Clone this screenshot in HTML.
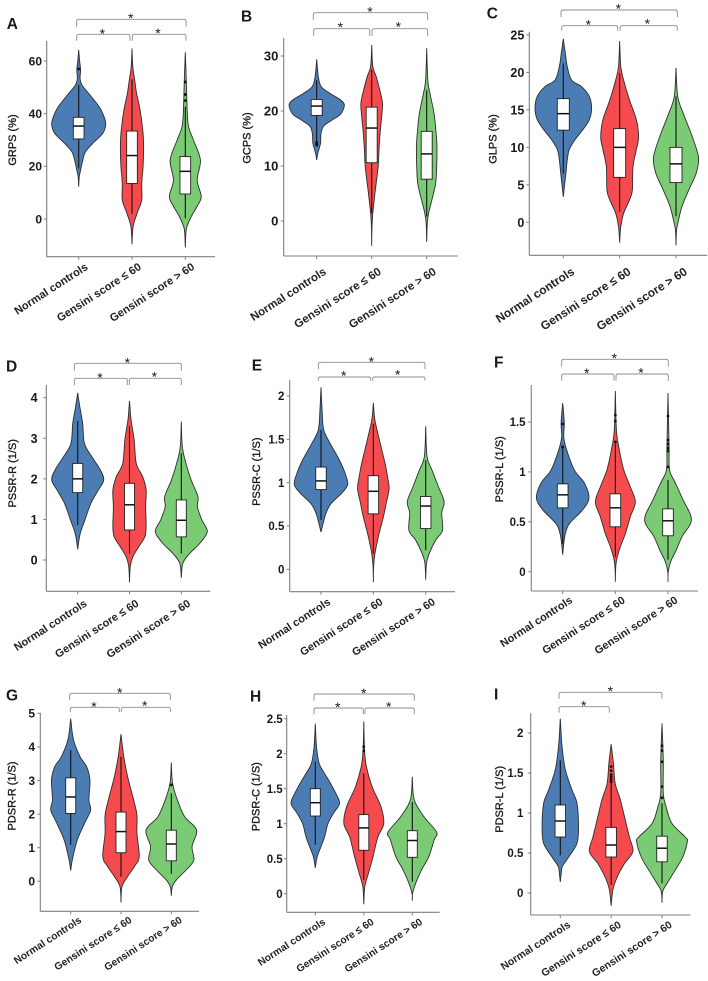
<!DOCTYPE html>
<html lang="en">
<head>
<meta charset="utf-8">
<title>Strain violin plots</title>
<style>
html,body{margin:0;padding:0;background:#fff;width:708px;height:981px;overflow:hidden}
svg{display:block;font-family:"Liberation Sans",sans-serif;filter:blur(.3px)}
</style>
</head>
<body>
<svg id="figure" width="708" height="981" viewBox="0 0 708 981" xmlns="http://www.w3.org/2000/svg"></svg>
<script>
const categories = ['Normal controls', 'Gensini score \u2264 60', 'Gensini score > 60'];
const seriesKeys = ['normal-controls', 'gensini-low', 'gensini-high'];
const seriesColors = ['#4b7cb3', '#f64b4e', '#7bcb75'];

// Panel A
const aTicks = [0, 20, 40, 60];
const aNormalValues = [64.2, 60.4, 56.6, 53.4, 50.9, 47.7, 42.6, 38.8, 35.9, 32.5, 28.7, 25.5, 22.3, 18.5, 16, 12.3];
const aNormalDensity = [0, .03, .07, .05, .12, .37, .76, .94, 1, .89, .52, .25, .15, .07, .02, 0];
const aNormalBox = [19.2, 30.4, 35.3, 38.6, 50.9];
const aNormalOutliers = [57];
const aLowValues = [64.8, 57.8, 52.8, 47.7, 41.4, 32.5, 26.2, 19.9, 13.5, 7.2, 2.2, -2.9, -9.6];
const aLowDensity = [0, .03, .1, .17, .3, .41, .43, .41, .36, .36, .19, .04, 0];
const aLowBox = [2, 13.5, 24.1, 33.4, 53];
const aLowOutliers = [];
const aHighValues = [63.3, 51.5, 41.4, 35.1, 30, 22.4, 14.8, 8.5, 4.7, .9, -2.9, -5.4, -10.8];
const aHighDensity = [0, .04, .07, .12, .3, .56, .44, .59, .43, .22, .06, .02, 0];
const aHighBox = [.3, 9.5, 18.1, 23.7, 42.7];
const aHighOutliers = [52, 47.3, 45];

// Panel B
const bTicks = [0, 10, 20, 30];
const bNormalValues = [29.4, 26.2, 24.4, 23.2, 22, 21.2, 20.2, 19.3, 18.1, 17.2, 15.9, 14.1, 12.3, 11.1];
const bNormalDensity = [0, .06, .17, .49, .89, 1.02, .98, .86, .49, .25, .16, .14, .04, 0];
const bNormalBox = [14.1, 19.2, 20.9, 22.1, 25.6];
const bNormalOutliers = [14.3, 14, 13.8];
const bLowValues = [32, 28.1, 26.2, 23.8, 21.4, 19, 15.9, 12.9, 9.9, 5, 1.4, -1, -4.5];
const bLowDensity = [0, .04, .17, .3, .4, .37, .31, .27, .24, .12, .04, .01, 0];
const bLowBox = [1.4, 10.6, 16.9, 20.7, 27.5];
const bLowOutliers = [];
const bHighValues = [31.4, 25.6, 23.2, 19.6, 15.9, 13.5, 9.9, 6.8, 3.8, 1.4, -.4, -3.8];
const bHighDensity = [0, .04, .12, .27, .35, .38, .37, .33, .19, .07, .02, 0];
const bHighBox = [.8, 7.6, 12.2, 16.3, 23.8];
const bHighOutliers = [];

// Panel C
const cTicks = [0, 5, 10, 15, 20, 25];
const cNormalValues = [24.5, 22.6, 20.8, 19, 18.1, 16.8, 15.2, 13.7, 12.3, 11, 9.7, 8.3, 6.5, 4.8, 3.4];
const cNormalDensity = [0, .07, .14, .29, .65, .92, 1, .92, .68, .41, .21, .14, .09, .04, 0];
const cNormalBox = [6.5, 12.3, 14.5, 16.5, 21.2];
const cNormalOutliers = [];
const cLowValues = [24.2, 20.8, 19, 16.3, 13.7, 11.4, 9.7, 7.4, 4.3, 3, 1.2, -.6, -2.7];
const cLowDensity = [0, .04, .14, .35, .59, .67, .59, .47, .45, .35, .14, .04, 0];
const cLowBox = [1.4, 6, 10, 12.5, 19.9];
const cLowOutliers = [];
const cHighValues = [20.6, 16.8, 14.5, 11.9, 9.7, 8.4, 6.5, 4.3, 2.1, .3, -1, -3.1];
const cHighDensity = [0, .06, .26, .53, .73, .8, .71, .45, .21, .09, .02, 0];
const cHighBox = [.8, 5.3, 7.8, 10, 16.8];
const cHighOutliers = [];

// Panel D
const dTicks = [0, 1, 2, 3, 4];
const dNormalValues = [4.12, 3.78, 3.37, 2.87, 2.55, 2.22, 1.97, 1.72, 1.4, .99, .66, .41, .26];
const dNormalDensity = [0, .08, .19, .26, .54, .87, 1, .79, .51, .28, .1, .03, 0];
const dNormalBox = [.86, 1.66, 2, 2.38, 3.43];
const dNormalOutliers = [];
const dLowValues = [3.92, 3.45, 2.96, 2.38, 2.05, 1.72, 1.31, .82, .57, .33, .08, -.16, -.55];
const dLowDensity = [0, .06, .18, .26, .51, .64, .62, .64, .59, .36, .13, .03, 0];
const dLowBox = [.16, .74, 1.36, 1.89, 3.29];
const dLowOutliers = [];
const dHighValues = [3.41, 2.79, 2.38, 1.97, 1.56, 1.31, .99, .7, .41, .16, -.08, -.44];
const dHighDensity = [0, .04, .18, .38, .64, .62, .79, 1, .71, .32, .06, 0];
const dHighBox = [.16, .57, .98, 1.48, 2.63];
const dHighOutliers = [];

// Panel E
const eTicks = [0, .5, 1, 1.5, 2];
const eNormalValues = [2.1, 1.84, 1.61, 1.45, 1.26, 1.11, .98, .88, .76, .65, .53, .43];
const eNormalDensity = [0, .04, .1, .35, .69, .9, 1, .78, .38, .19, .08, 0];
const eNormalBox = [.57, .92, 1.02, 1.18, 1.61];
const eNormalOutliers = [];
const eLowValues = [1.92, 1.72, 1.49, 1.22, 1.07, .93, .76, .61, .38, .18, .03, -.15];
const eLowDensity = [0, .06, .23, .44, .53, .59, .48, .38, .19, .06, .01, 0];
const eLowBox = [.18, .64, .9, 1.08, 1.68];
const eLowOutliers = [];
const eHighValues = [1.65, 1.3, 1.15, .95, .78, .65, .45, .34, .18, .07, -.12];
const eHighDensity = [0, .05, .23, .48, .69, .6, .63, .38, .13, .03, 0];
const eHighBox = [.22, .47, .73, .84, 1.26];
const eHighOutliers = [];

// Panel F
const fTicks = [0, .5, 1, 1.5];
const fNormalValues = [1.69, 1.49, 1.35, 1.22, 1.02, .89, .74, .62, .48, .38, .28, .17];
const fNormalDensity = [0, .06, .04, .15, .44, .82, 1, .76, .25, .1, .04, 0];
const fNormalBox = [.28, .64, .77, .88, 1.25];
const fNormalOutliers = [1.48, 1.25];
const fLowValues = [1.81, 1.42, 1.25, 1.02, .85, .7, .55, .38, .25, .12, .02, -.1];
const fLowDensity = [0, .04, .13, .32, .57, .76, .57, .38, .19, .05, .01, 0];
const fLowBox = [.15, .45, .64, .78, 1.29];
const fLowOutliers = [1.57, 1.51, 1.3];
const fHighValues = [1.79, 1.25, 1.02, .89, .72, .52, .35, .22, .1, 0, -.1];
const fHighDensity = [0, .04, .06, .28, .57, .89, .53, .32, .1, .01, 0];
const fHighBox = [.12, .36, .51, .63, .92];
const fHighOutliers = [1.56, 1.32, 1.28, 1.24, 1.21, 1.05];

// Panel G
const gTicks = [0, 1, 2, 3, 4, 5];
const gNormalValues = [4.84, 4.21, 3.71, 3.41, 3.02, 2.42, 2.12, 1.73, 1.23, .73, .54, .32];
const gNormalDensity = [0, .11, .37, .63, .76, .72, .79, .55, .26, .09, .04, 0];
const gNormalBox = [1.08, 2.02, 2.51, 3.08, 3.91];
const gNormalOutliers = [];
const gLowValues = [4.38, 3.71, 3.12, 2.42, 1.97, 1.43, .73, .44, .14, -.16, -.63];
const gLowDensity = [0, .11, .26, .5, .63, .63, .72, .53, .26, .04, 0];
const gLowBox = [.14, .85, 1.48, 2.06, 3.71];
const gLowOutliers = [];
const gHighValues = [3.53, 2.92, 2.42, 1.92, 1.63, 1.43, 1.03, .63, .34, .04, -.16, -.43];
const gHighDensity = [0, .05, .24, .53, .92, 1, .82, .89, .59, .2, .04, 0];
const gHighBox = [.22, .61, 1.11, 1.52, 2.62];
const gHighOutliers = [2.87];

// Panel H
const hTicks = [0, .5, 1, 1.5, 2, 2.5];
const hNormalValues = [2.43, 2.1, 1.86, 1.72, 1.58, 1.43, 1.29, 1.15, 1, .81, .65, .53, .37];
const hNormalDensity = [0, .05, .16, .38, .62, .85, 1, .75, .52, .38, .21, .08, 0];
const hNormalBox = [.7, 1.11, 1.3, 1.5, 1.89];
const hNormalOutliers = [];
const hLowValues = [2.46, 2.05, 1.81, 1.53, 1.24, 1, .81, .53, .29, .1, -.15];
const hLowDensity = [0, .03, .11, .34, .71, .82, .58, .38, .19, .04, 0];
const hLowBox = [.2, .62, .94, 1.13, 1.72];
const hLowOutliers = [2.1, 2.04];
const hHighValues = [1.67, 1.34, 1.1, .88, .77, .53, .34, .15, 0, -.1];
const hHighDensity = [0, .08, .48, 1, .9, .68, .38, .14, .01, 0];
const hHighBox = [.17, .52, .76, .9, 1.31];
const hHighOutliers = [];

// Panel I
const iTicks = [0, .5, 1, 1.5, 2];
const iNormalValues = [2.18, 1.83, 1.54, 1.29, 1.12, .83, .62, .45, .33, .25, .14];
const iNormalDensity = [0, .07, .2, .46, .66, .72, .66, .33, .08, .04, 0];
const iNormalBox = [.47, .7, .9, 1.1, 1.66];
const iNormalOutliers = [];
const iLowValues = [1.86, 1.62, 1.37, 1.16, .95, .7, .52, .37, .2, .04, -.16];
const iLowDensity = [0, .09, .16, .37, .53, .72, .86, .53, .24, .07, 0];
const iLowBox = [.1, .45, .6, .82, 1.39];
const iLowOutliers = [1.58, 1.53, 1.48, 1.45, 1.42, 1.39];
const iHighValues = [2.12, 1.66, 1.25, 1.08, .87, .7, .64, .45, .29, .12, .02, -.12];
const iHighDensity = [0, .05, .05, .16, .39, .92, 1, .82, .53, .2, .03, 0];
const iHighBox = [.12, .39, .56, .71, 1.12];
const iHighOutliers = [1.84, 1.78, 1.64, 1.33, 1.19];

const panelLetters = ['A', 'B', 'C', 'D', 'E', 'F', 'G', 'H', 'I'];
const panelTitles = ['GRPS (%)', 'GCPS (%)', 'GLPS (%)', 'PSSR-R (1/S)', 'PSSR-C (1/S)', 'PSSR-L (1/S)', 'PDSR-R (1/S)', 'PDSR-C (1/S)', 'PDSR-L (1/S)'];
const panelTicks = [aTicks, bTicks, cTicks, dTicks, eTicks, fTicks, gTicks, hTicks, iTicks];
const panelValues = [
  [aNormalValues, aLowValues, aHighValues], [bNormalValues, bLowValues, bHighValues], [cNormalValues, cLowValues, cHighValues],
  [dNormalValues, dLowValues, dHighValues], [eNormalValues, eLowValues, eHighValues], [fNormalValues, fLowValues, fHighValues],
  [gNormalValues, gLowValues, gHighValues], [hNormalValues, hLowValues, hHighValues], [iNormalValues, iLowValues, iHighValues]
];
const panelDensity = [
  [aNormalDensity, aLowDensity, aHighDensity], [bNormalDensity, bLowDensity, bHighDensity], [cNormalDensity, cLowDensity, cHighDensity],
  [dNormalDensity, dLowDensity, dHighDensity], [eNormalDensity, eLowDensity, eHighDensity], [fNormalDensity, fLowDensity, fHighDensity],
  [gNormalDensity, gLowDensity, gHighDensity], [hNormalDensity, hLowDensity, hHighDensity], [iNormalDensity, iLowDensity, iHighDensity]
];
const panelBoxes = [
  [aNormalBox, aLowBox, aHighBox], [bNormalBox, bLowBox, bHighBox], [cNormalBox, cLowBox, cHighBox],
  [dNormalBox, dLowBox, dHighBox], [eNormalBox, eLowBox, eHighBox], [fNormalBox, fLowBox, fHighBox],
  [gNormalBox, gLowBox, gHighBox], [hNormalBox, hLowBox, hHighBox], [iNormalBox, iLowBox, iHighBox]
];
const panelOutliers = [
  [aNormalOutliers, aLowOutliers, aHighOutliers], [bNormalOutliers, bLowOutliers, bHighOutliers], [cNormalOutliers, cLowOutliers, cHighOutliers],
  [dNormalOutliers, dLowOutliers, dHighOutliers], [eNormalOutliers, eLowOutliers, eHighOutliers], [fNormalOutliers, fLowOutliers, fHighOutliers],
  [gNormalOutliers, gLowOutliers, gHighOutliers], [hNormalOutliers, hLowOutliers, hHighOutliers], [iNormalOutliers, iLowOutliers, iHighOutliers]
];

// Layout only (pixel geometry of each panel, no data)
const layouts = [
  {ax:46.7,top:41,bottom:256.7,right:215,x0:78.7,x2:185.3,y0:219,yN:61,half:27,boxW:10.7,tickGap:4.7,tickFont:12,xFont:11.1,xdx:10,xdy:12,titleX:16,titleY:140,lx:6.7,ly:29},
  {ax:283.7,top:37.7,bottom:256,right:457.7,x0:316.7,x2:426.7,y0:221,yN:56,half:27,boxW:11,tickGap:5.3,tickFont:13,xFont:11.45,xdx:10.3,xdy:17.5,titleX:250.5,titleY:138,lx:241,ly:21.7},
  {ax:529.3,top:31.7,bottom:255.3,right:707.3,x0:563.3,x2:676,y0:222.3,yN:35,half:28.3,boxW:12,tickGap:5,tickFont:12.5,xFont:11.85,xdx:12,xdy:18.3,titleX:496.5,titleY:139,lx:486.7,ly:18.3},
  {ax:46.3,top:385,bottom:591.3,right:210.3,x0:77.7,x2:181.3,y0:560,yN:397.7,half:26,boxW:10,tickGap:8.7,tickFont:12.5,xFont:11,xdx:10,xdy:14,titleX:16,titleY:473.3,lx:6,ly:371.7},
  {ax:289.7,top:380,bottom:591.7,right:455,x0:321,x2:425.7,y0:569.3,yN:396,half:26.7,boxW:10.5,tickGap:5.3,tickFont:11.5,xFont:10.9,xdx:10.3,xdy:12,titleX:260,titleY:471.7,lx:251.7,ly:370.7},
  {ax:531.3,top:385,bottom:591,right:698,x0:562.7,x2:668,y0:571.7,yN:422,half:26.3,boxW:10.7,tickGap:5.7,tickFont:11.5,xFont:10.9,xdx:10.5,xdy:11,titleX:503,titleY:469.3,lx:494,ly:367.3},
  {ax:40.3,top:712.7,bottom:911.3,right:199,x0:70.7,x2:171.3,y0:881.3,yN:713.3,half:25.3,boxW:10,tickGap:5.3,tickFont:12,xFont:10.2,xdx:11.5,xdy:10.5,titleX:15.5,titleY:796,lx:6,ly:700.7},
  {ax:286.7,top:715,bottom:912.3,right:439.7,x0:315.3,x2:412.3,y0:893.7,yN:718.7,half:24.3,boxW:10,tickGap:4,tickFont:11.5,xFont:10.2,xdx:10.8,xdy:11.3,titleX:259.5,titleY:796.7,lx:250,ly:701.7},
  {ax:530.7,top:713.3,bottom:915,right:690.3,x0:560.3,x2:662,y0:893,yN:733,half:25.3,boxW:10.5,tickGap:7.3,tickFont:11.5,xFont:10.5,xdx:10.8,xdy:11.5,titleX:503,titleY:799.3,lx:494,ly:699.3}
];

// Annotation geometry: [x-left, x-right, bar-y, drop-y, star-x, star-y]
const brackets = [
  [[76.7,186,19.3,26.7,130.7,15],[76.7,130,34.3,40.7,102.3,30.5],[132.3,186,34.3,40.7,158,30]],
  [[313.3,427.7,12.7,20,370,8.3],[313.7,369.7,28.7,36,340.3,24],[372,427.7,28.7,36,398.3,23.3]],
  [[561,677.3,10,17.3,618.3,5.7],[561.7,617.7,25.7,30.7,588.3,21.7],[620,677.3,25.7,30.7,647.3,20.7]],
  [[74.3,181.3,363.3,370.7,127.3,359.3],[74.3,127.3,378.3,385,100,374.3],[129.3,181.3,378.3,385,154.3,373.3]],
  [[318.3,425,362.3,369.3,371.3,358.3],[318.3,370.7,377,380.7,343.7,372.7],[372.7,425,377,380.7,397.7,371.7]],
  [[561.7,668.3,359.3,366.7,614.3,355],[561.7,614,374,380.7,586.7,370],[616,668.3,374,380.7,641,369.3]],
  [[69.7,170.3,693.3,700,119.7,689.3],[70.3,119.3,707.3,712,94,703.3],[121.3,170.3,707.3,712,144.7,702.7]],
  [[314,414.3,694,700.7,363.7,690],[314,363.3,708,714.3,337.7,704],[365,414.3,708,714.3,388.7,703.3]],
  [[559,662,692.3,698.7,610.3,688],[559,609.3,706.7,712.7,583.7,702.3]]
];

const NS = 'http://www.w3.org/2000/svg';
const figure = document.getElementById('figure');

function make(tag, attrs, parent) {
  const node = document.createElementNS(NS, tag);
  for (const key in attrs) node.setAttribute(key, attrs[key]);
  parent.appendChild(node);
  return node;
}

// Smooth outline through value/density samples on one side of the violin
function sidePath(pts) {
  let d = '';
  for (let i = 0; i < pts.length - 1; i++) {
    const p0 = pts[Math.max(i - 1, 0)], p1 = pts[i], p2 = pts[i + 1], p3 = pts[Math.min(i + 2, pts.length - 1)];
    const c1x = p1[0] + (p2[0] - p0[0]) / 6, c1y = p1[1] + (p2[1] - p0[1]) / 6;
    const c2x = p2[0] - (p3[0] - p1[0]) / 6, c2y = p2[1] - (p3[1] - p1[1]) / 6;
    d += 'C' + c1x.toFixed(2) + ' ' + c1y.toFixed(2) + ' ' + c2x.toFixed(2) + ' ' + c2y.toFixed(2) + ' ' + p2[0].toFixed(2) + ' ' + p2[1].toFixed(2);
  }
  return d;
}

panelLetters.forEach(function (letter, p) {
  const L = layouts[p];
  const ticks = panelTicks[p];
  const key = letter.toLowerCase();
  const yScale = function (v) {
    return L.y0 + (v - ticks[0]) / (ticks[ticks.length - 1] - ticks[0]) * (L.yN - L.y0);
  };
  const xScale = function (i) {
    return L.x0 + i * (L.x2 - L.x0) / (categories.length - 1);
  };

  const panel = make('g', {}, figure);
  
  

  const label = make('text', {x: L.lx, y: L.ly, 'font-size': 15.5, 'font-weight': 'bold', fill: '#1a1a1a'}, panel);
  label.textContent = letter;
  
  

  const title = make('text', {x: L.titleX, y: L.titleY, 'font-size': 11, fill: '#1a1a1a', 'text-anchor': 'middle', stroke: '#1a1a1a', 'stroke-width': .35, transform: 'rotate(-90 ' + L.titleX + ' ' + L.titleY + ')'}, panel);
  title.textContent = panelTitles[p];
  
  

  categories.forEach(function (cat, s) {
    const cx = xScale(s);
    const vals = panelValues[p][s];
    const dens = panelDensity[p][s];
    const box = panelBoxes[p][s];
    const group = make('g', {}, panel);
    
    

    const right = vals.map(function (v, i) { return [cx + dens[i] * L.half, yScale(v)]; });
    const left = vals.map(function (v, i) { return [cx - dens[i] * L.half, yScale(v)]; }).reverse();
    const d = 'M' + right[0][0].toFixed(2) + ' ' + right[0][1].toFixed(2) + sidePath(right) + sidePath(left) + 'Z';
    const violin = make('path', {d: d, fill: seriesColors[s], stroke: '#2d2d2d', 'stroke-width': .9}, group);
    
    

    const whisker = make('line', {x1: cx, x2: cx, y1: yScale(box[4]), y2: yScale(box[0]), stroke: '#111', 'stroke-width': 1.1}, group);
    
    

    const rect = make('rect', {x: cx - L.boxW / 2, width: L.boxW, y: yScale(box[3]), height: yScale(box[1]) - yScale(box[3]), fill: '#fff', stroke: '#222', 'stroke-width': .9}, group);
    
    

    const median = make('line', {x1: cx - L.boxW / 2, x2: cx + L.boxW / 2, y1: yScale(box[2]), y2: yScale(box[2]), stroke: '#111', 'stroke-width': 1.5}, group);
    
    

    panelOutliers[p][s].forEach(function (v) {
      const dot = make('circle', {cx: cx, cy: yScale(v), r: 1.4, fill: '#111'}, group);
      
      
    });

    const xTick = make('line', {x1: cx, x2: cx, y1: L.bottom, y2: L.bottom + 3, stroke: '#7f7f7f', 'stroke-width': 1}, panel);
    
    

    const tx = cx + L.xdx, ty = L.bottom + L.xdy;
    const xLabel = make('text', {x: tx, y: ty, 'font-size': L.xFont, 'font-weight': 'bold', fill: '#222', 'text-anchor': 'end', transform: 'rotate(-33 ' + tx + ' ' + ty + ')'}, panel);
    xLabel.textContent = cat;
    
    
  });

  const yAxis = make('line', {x1: L.ax, x2: L.ax, y1: L.top, y2: L.bottom, stroke: '#7f7f7f', 'stroke-width': 1.1}, panel);
  
  

  const xAxis = make('line', {x1: L.ax, x2: L.right, y1: L.bottom, y2: L.bottom, stroke: '#7f7f7f', 'stroke-width': 1.1}, panel);
  
  

  ticks.forEach(function (t) {
    const y = yScale(t);
    const tick = make('line', {x1: L.ax - 3, x2: L.ax, y1: y, y2: y, stroke: '#7f7f7f', 'stroke-width': 1}, panel);
    
    
    const tl = make('text', {x: L.ax - L.tickGap, y: y + L.tickFont * .36, 'font-size': L.tickFont, 'font-weight': 'bold', fill: '#1a1a1a', 'text-anchor': 'end'}, panel);
    tl.textContent = String(t);
    
    
  });

  brackets[p].forEach(function (b) {
    const r = 2;
    const bd = 'M' + b[0] + ' ' + b[3] + 'V' + (b[2] + r) + 'Q' + b[0] + ' ' + b[2] + ' ' + (b[0] + r) + ' ' + b[2] + 'H' + (b[1] - r) + 'Q' + b[1] + ' ' + b[2] + ' ' + b[1] + ' ' + (b[2] + r) + 'V' + b[3];
    const bracket = make('path', {d: bd, fill: 'none', stroke: '#8c8c8c', 'stroke-width': .9}, panel);
    
    
    const star = make('text', {x: b[4], y: b[5] + 8, 'font-size': 14, fill: '#1a1a1a', 'text-anchor': 'middle'}, panel);
    star.textContent = '*';
    
    
  });
});
</script>
</body>
</html>
